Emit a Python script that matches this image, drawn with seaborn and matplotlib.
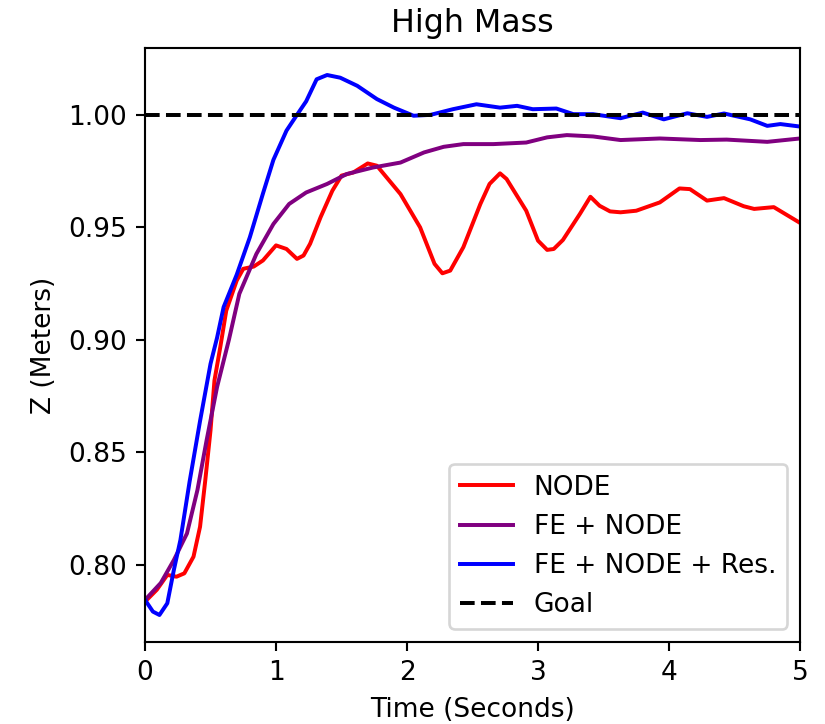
import numpy as np
import pandas as pd
import seaborn as sns
import matplotlib
matplotlib.use("Agg")
import matplotlib.pyplot as plt

# NODE
node_t = [0.00, 0.09, 0.17, 0.24, 0.30, 0.37, 0.42, 0.46, 0.50, 0.53, 0.575, 0.62, 0.70, 0.75,
          0.83, 0.90, 1.00, 1.08, 1.16, 1.21, 1.26, 1.34, 1.43, 1.50, 1.59, 1.70, 1.77, 1.95,
          2.10, 2.21, 2.27, 2.33, 2.43, 2.56, 2.63, 2.71, 2.76, 2.91, 3.00, 3.07, 3.12, 3.19,
          3.32, 3.40, 3.47, 3.55, 3.63, 3.75, 3.93, 4.08, 4.16, 4.29, 4.42, 4.57, 4.65, 4.80, 5.00]
node_z = [0.7837, 0.789, 0.7956, 0.7948, 0.7963, 0.8037, 0.817, 0.8377, 0.8599, 0.882, 0.897,
          0.913, 0.9264, 0.9316, 0.9326, 0.9353, 0.942, 0.9404, 0.936, 0.9375, 0.9427, 0.9545,
          0.9663, 0.973, 0.9744, 0.9784, 0.9774, 0.9648, 0.950, 0.9338, 0.9296, 0.9308, 0.9412,
          0.9604, 0.9693, 0.974, 0.9715, 0.9574, 0.9441, 0.940, 0.9404, 0.9444, 0.956, 0.9636,
          0.9596, 0.9571, 0.9567, 0.9574, 0.9611, 0.9673, 0.967, 0.9619, 0.963, 0.9594, 0.9582,
          0.959, 0.952]

# FE + NODE
fe_t = [0.00, 0.12, 0.22, 0.32, 0.40, 0.47, 0.55, 0.64, 0.72, 0.85, 0.98, 1.10, 1.23, 1.39,
        1.54, 1.74, 1.95, 2.13, 2.28, 2.43, 2.66, 2.91, 3.07, 3.22, 3.42, 3.63, 3.93, 4.24,
        4.44, 4.75, 5.00]
fe_z = [0.7845, 0.792, 0.8022, 0.814, 0.8333, 0.8554, 0.8791, 0.900, 0.9205, 0.9382, 0.9515,
        0.9604, 0.9655, 0.9693, 0.9737, 0.9766, 0.9788, 0.9833, 0.9858, 0.987, 0.987, 0.9877,
        0.990, 0.991, 0.9904, 0.9888, 0.9895, 0.9888, 0.989, 0.988, 0.9895]

# FE + NODE + Res.
res_t = [0.00, 0.06, 0.11, 0.17, 0.22, 0.27, 0.34, 0.42, 0.50, 0.55, 0.60, 0.70, 0.80, 0.90,
         0.98, 1.08, 1.16, 1.23, 1.31, 1.39, 1.49, 1.62, 1.77, 1.90, 2.05, 2.18, 2.35, 2.53,
         2.71, 2.84, 2.96, 3.14, 3.27, 3.42, 3.63, 3.80, 3.96, 4.14, 4.29, 4.42, 4.62, 4.75,
         4.85, 5.00]
res_z = [0.7845, 0.7793, 0.7778, 0.783, 0.7978, 0.8111, 0.837, 0.864, 0.8894, 0.901, 0.9146,
         0.929, 0.9456, 0.965, 0.980, 0.993, 1.000, 1.006, 1.0158, 1.0177, 1.0165, 1.0129,
         1.007, 1.0032, 0.9996, 1.000, 1.0025, 1.0047, 1.0032, 1.004, 1.0025, 1.0028, 1.0003,
         1.0003, 0.9985, 1.001, 0.998, 1.0007, 0.9991, 1.0006, 0.998, 0.9951, 0.9959, 0.9948]

goal_t = [0.0, 5.0]
goal_z = [1.0, 1.0]

DPI = 190
fig = plt.figure(figsize=(825 / DPI, 724 / DPI), dpi=DPI)
ax = fig.add_axes([0.1758, 0.1133, 0.7939, 0.8204])

sns.lineplot(x=node_t, y=node_z, color="red", label="NODE", ax=ax)
sns.lineplot(x=fe_t, y=fe_z, color="purple", label="FE + NODE", ax=ax)
sns.lineplot(x=res_t, y=res_z, color="blue", label="FE + NODE + Res.", ax=ax)
sns.lineplot(x=goal_t, y=goal_z, color="black", linestyle="--", label="Goal", ax=ax)

ax.set_xlim(0, 5)
ax.set_title("High Mass")
ax.set_xlabel("Time (Seconds)")
ax.set_ylabel("Z (Meters)")
ax.legend(loc="lower right")

fig.savefig("out.png", dpi=DPI)
